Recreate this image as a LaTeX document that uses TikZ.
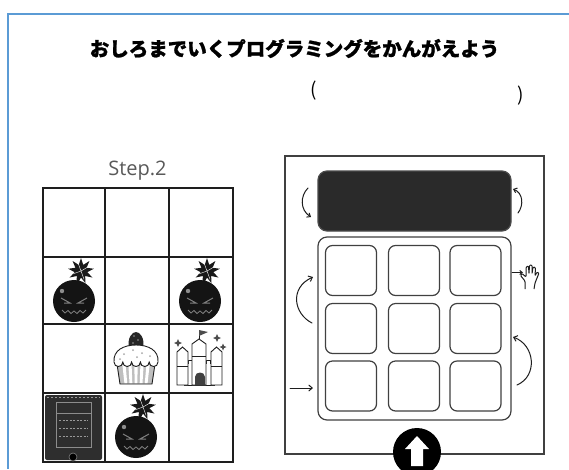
\documentclass[tikz,border=0pt]{standalone}
\usepackage{fontspec}
\newfontfamily\jpfont[BoldFeatures={FakeBold=1.2}]{Noto Sans CJK JP}
\newfontfamily\stepfont{Open Sans}
\usetikzlibrary{arrows.meta}
\definecolor{frameblue}{RGB}{91,155,213}
\definecolor{ink}{RGB}{30,30,30}
\definecolor{screen}{RGB}{42,42,42}

\tikzset{
  gridline/.style={ink, line width=1.4pt},
  panelline/.style={ink!85, line width=1.2pt},
  btn/.style={draw=ink!85, line width=1.2pt, rounded corners=7pt, minimum width=51pt, minimum height=50pt, inner sep=0pt},
  sketch/.style={ink, line width=1pt, line cap=round, -{Straight Barb[length=3.5pt,width=6pt]}},
  bomb/.pic={
    % fuse and spiky flame
    \draw[black!90, line width=2pt] (3,-18) -- (6,-24);
    \fill[black!90] plot[samples at={0,...,17}, variable=\k]
      ({7+ifthenelse(mod(\k,2)==0,13,6.5)*cos(90+20*\k)},
       {-30-ifthenelse(mod(\k,2)==0,13,6.5)*sin(90+20*\k)}) -- cycle;
    \foreach \a in {30,110,200,290}
      \draw[white, line width=0.4pt] (7,-30) -- ++({9*cos(\a)},{-9*sin(\a)});
    % body
    \fill[black!92] (0,0) circle (21);
    \fill[black!45] (-12,-10) circle (2.2);
    % angry eyes
    \draw[black!50, line width=1pt] (-13,-3) -- (-4,2) -- (-10,2);
    \draw[black!50, line width=1pt] (13,-3) -- (4,2) -- (10,2);
    % jagged grin
    \draw[black!50, line width=0.8pt] (-12,9) -- (-9,12) -- (-6,9.5) -- (-3,12.5) -- (0,10) -- (3,12.5) -- (6,9.5) -- (9,12) -- (12,9);
  }
}

\begin{document}
\begin{tikzpicture}[x=1pt,y=-1pt]
\useasboundingbox (0,0) rectangle (569,469);
\clip (0,0) rectangle (569,469);
\fill[white] (0,0) rectangle (569,469);

% page frame
\draw[frameblue, line width=2pt] (569,13.5) -- (8,13.5) -- (8,469);

% heading and answer brackets
\node[font=\jpfont\bfseries\fontsize{19.5}{22}\selectfont, inner sep=0pt] (title) at (294.5,48.5)
  {おしろまでいくプログラミングをかんがえよう};
\node[font=\jpfont\fontsize{19}{22}\selectfont, inner sep=0pt] (lparen) at (314,91) {(};
\node[font=\jpfont\fontsize{19}{22}\selectfont, inner sep=0pt] (rparen) at (521,96) {)};

% ---------- map ----------
\node[font=\stepfont\fontsize{20}{24}\selectfont, text=black!65, anchor=base, inner sep=0pt] (steplabel) at (137.5,175.5) {Step.2};

\draw[gridline] (43,188) rectangle (233,462);
\foreach \x in {105,169} \draw[gridline] (\x,188) -- (\x,462);
\foreach \y in {257,324,393} \draw[gridline] (43,\y) -- (233,\y);

% bombs
\pic at (74,301) {bomb};
\pic at (200,301) {bomb};
\pic at (136,437) {bomb};

% cupcake
\begin{scope}[shift={(136,358)}]
  \fill[black!85] (-7,-10) .. controls (-9,-20) and (-4,-26) .. (0,-26) .. controls (4,-26) and (9,-20) .. (7,-10) -- cycle;
  \fill[black!40] (-2,-22) circle (0.8) (2,-18) circle (0.8) (-3,-15) circle (0.8);
  \filldraw[fill=black!25, draw=ink, line width=0.9pt] (-19,6) -- (19,6) -- (16,26) -- (-16,26) -- cycle;
  \foreach \x in {-12,-6,0,6,12}
    \fill[white] (\x-1.6,7) -- (\x+1.6,7) -- (\x*0.85+1.4,25) -- (\x*0.85-1.4,25) -- cycle;
  \filldraw[fill=white, draw=ink, line width=0.9pt] (-22,4) .. controls (-23,-8) and (-12,-13) .. (0,-13)
    .. controls (12,-13) and (23,-8) .. (22,4)
    .. controls (22,10) and (13.2,10) .. (13.2,4)
    .. controls (13.2,10) and (4.4,10) .. (4.4,4)
    .. controls (4.4,10) and (-4.4,10) .. (-4.4,4)
    .. controls (-4.4,10) and (-13.2,10) .. (-13.2,4)
    .. controls (-13.2,10) and (-22,10) .. (-22,4) -- cycle;
  \fill[black!35] (-12,-4) circle (1) (-3,-8) circle (1) (6,-5) circle (1) (14,-2) circle (1) (-16,1) circle (1) (1,-1) circle (1);
\end{scope}

% castle
\begin{scope}[draw=ink, line width=0.9pt, fill=white]
  \filldraw (184,363) -- (188,363) -- (188,360) -- (192,360) -- (192,363) -- (206,363) -- (206,360) -- (210,360) -- (210,363) -- (214,363) -- (214,385) -- (184,385) -- cycle;
  \filldraw (177,385) -- (177,352) -- (182.5,347) -- (188,352) -- (188,385) -- cycle;
  \filldraw (211,385) -- (211,352) -- (216.5,347) -- (222,352) -- (222,385) -- cycle;
  \filldraw (192,385) -- (192,344) -- (199,339) -- (206,344) -- (206,385) -- cycle;
  \draw (177,366) -- (188,366) (211,366) -- (222,366) (192,356) -- (206,356);
  \fill[black!75] (195,385) -- (195,377) .. controls (195,371) and (205,371) .. (205,377) -- (205,385) -- cycle;
  \draw (199,339) -- (199,330);
  \fill[black!70] (199,330) -- (208,332) -- (199,336) -- cycle;
  \foreach \p/\s in {{(178,343)}/4, {(217,338)}/4, {(223,347)}/3.5}
    \fill[black!70] \p ++(0,-\s) -- ++(\s*0.3,\s*0.7) -- ++(\s*0.7,\s*0.3) -- ++(-\s*0.7,\s*0.3) -- ++(-\s*0.3,\s*0.7) -- ++(-\s*0.3,-\s*0.7) -- ++(-\s*0.7,-\s*0.3) -- ++(\s*0.7,-\s*0.3) -- cycle;
\end{scope}

% tablet
\fill[black!82, rounded corners=2pt] (45,395) rectangle (102,460);
\draw[black!45, line width=0.8pt] (56,402) rectangle (91,447);
\draw[black!45, line width=0.8pt] (56,413) -- (91,413);
\foreach \y in {420,428,436}
  \draw[black!40, line width=0.5pt, dash pattern=on 2pt off 1.5pt] (59,\y) -- (88,\y);
\draw[black!40, line width=0.5pt, dash pattern=on 2pt off 2pt] (47,397.5) -- (100,397.5);
\filldraw[fill=black, draw=black!50, line width=0.6pt] (73,457) circle (4);

% ---------- controller ----------
\draw[panelline] (285,156) rectangle (544,454);
\filldraw[fill=screen, draw=ink!80, line width=1.2pt, rounded corners=9pt] (318,171) rectangle (511,231);
\draw[panelline, rounded corners=9pt] (318,237) rectangle (511,420);

\foreach \c/\x in {1/351,2/414,3/475.5}
  \foreach \r/\y in {1/270.5,2/328.5,3/386}
    \node[btn] (b\r\c) at (\x,\y) {};

% hand-drawn rotation and move marks
\draw[sketch, -{Straight Barb[length=3pt,width=5pt]}] (308,188) .. controls (300,196) and (300,210) .. (311,217);
\draw[sketch, -{Straight Barb[length=3pt,width=5pt]}] (518,213) .. controls (524,205) and (523,193) .. (513,189);
\draw[sketch] (312,323) .. controls (294,314) and (289,288) .. (313,277);
\draw[sketch] (290,388) -- (313,388);
\draw[sketch] (517,385) .. controls (538,376) and (535,345) .. (513,337);
\draw[sketch, -{Straight Barb[length=2.5pt,width=4pt]}] (512,272.5) -- (523,272.5);
\draw[ink, line width=1pt, line join=round, rounded corners=1pt]
  (525,289) -- (525,281) -- (520.5,275.5) -- (522,273.5) -- (526,277) -- (526,267) -- (528.5,266) -- (529,274)
  -- (529.5,265) -- (532,265) -- (532,274) -- (533,267) -- (535.5,267.5) -- (535,276) -- (537,272) -- (539,273)
  -- (535,283) -- (534,289);

% forward button
\node[circle, fill=black, minimum size=48pt, inner sep=0pt] (upbtn) at (417,452) {};
\fill[white] (405,449) -- (417,436) -- (429,449) -- (423,449) -- (423,466) -- (411,466) -- (411,449) -- cycle;
\end{tikzpicture}
\end{document}
